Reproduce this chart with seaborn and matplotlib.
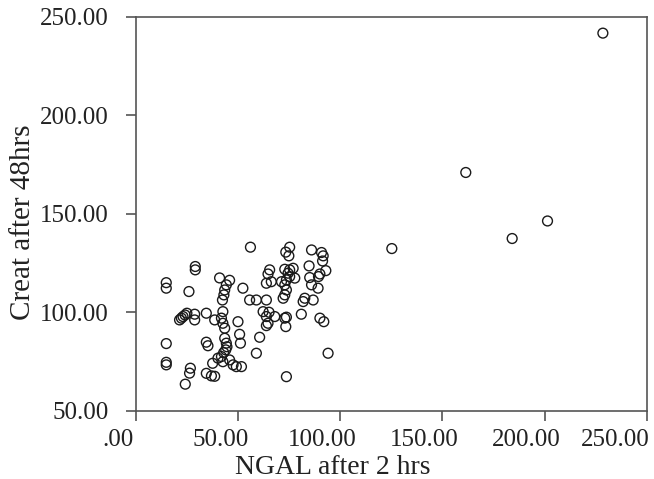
import matplotlib
matplotlib.use("Agg")
import matplotlib.pyplot as plt
import matplotlib.transforms as mtrans
import seaborn as sns
import pandas as pd

ngal = [228.5, 161.4, 201.4, 184.1, 125.2,
        14.8, 14.8, 14.8, 14.8, 14.8, 29.0, 29.0, 25.9, 21.3, 22.2, 23.0, 24.0, 24.9,
        28.7, 28.7, 34.4, 38.5, 34.4, 35.2, 26.6, 26.2, 24.1, 34.4, 36.9, 38.5, 37.5, 40.9,
        45.8, 44.2, 43.4, 43.0, 42.3, 42.5, 41.8, 42.5, 43.4, 43.4, 44.2, 44.5, 43.9, 42.9,
        41.8, 40.1, 42.5, 45.8, 47.5, 49.1, 51.6, 49.9, 50.7, 51.1, 52.3, 56.0, 55.6, 58.9,
        63.8, 60.5, 58.9,
        65.4, 64.6, 66.2, 63.8, 62.2, 65.1, 63.8, 64.6, 63.8, 67.9,
        75.2, 73.3, 74.8, 72.8, 75.2, 76.9, 74.4, 75.2, 77.7, 73.6, 71.2, 72.8, 73.6, 72.8,
        72.0, 72.8, 73.6, 73.3, 73.6,
        85.9, 90.8, 91.6, 91.3, 84.7, 92.9, 90.0, 89.3, 85.0, 85.9, 89.1, 82.6, 81.8, 86.7,
        80.9, 90.0, 91.9, 94.0]
creat = [241.7, 171.0, 146.4, 137.5, 132.4,
         115.1, 112.3, 84.2, 74.7, 73.4, 123.3, 121.6, 110.6, 96.2, 97.1, 97.9, 98.7, 99.6,
         99.1, 96.2, 99.6, 96.2, 84.9, 83.1, 71.7, 69.2, 63.6, 69.1, 67.8, 67.6, 74.2, 117.5,
         116.3, 114.0, 111.4, 108.9, 106.3, 100.4, 97.1, 94.5, 92.0, 86.9, 84.4, 82.6, 81.0, 79.6,
         77.6, 76.8, 75.0, 75.9, 73.4, 72.5, 72.5, 95.3, 88.9, 84.4, 112.3, 133.1, 106.3, 106.3,
         106.3, 87.4, 79.3,
         121.6, 119.5, 115.6, 114.8, 100.4, 100.1, 97.9, 94.5, 93.3, 97.9,
         133.1, 130.6, 128.7, 121.9, 121.6, 122.4, 119.9, 118.2, 117.4, 116.5, 115.6, 114.0, 111.4, 108.9,
         107.2, 97.1, 97.6, 92.8, 67.4,
         131.7, 130.4, 128.7, 126.1, 123.6, 121.2, 119.5, 118.2, 117.7, 114.0, 112.3, 107.2, 105.5, 106.3,
         99.1, 97.1, 95.3, 79.3]

x_ticks = [0, 50, 100, 150, 200, 250]
x_labels = [".00", "50.00", "100.00", "150.00", "200.00", "250.00"]
y_ticks = [50, 100, 150, 200, 250]
y_labels = ["50.00", "100.00", "150.00", "200.00", "250.00"]

df = pd.DataFrame({"NGAL after 2 hrs": ngal, "Creat after 48hrs": creat})

sns.set_style("white")
plt.rcParams["font.family"] = ["Liberation Serif", "DejaVu Serif"]

fig = plt.figure(figsize=(6.54, 4.79), dpi=100)
ax = fig.add_axes([0.208, 0.142, 0.781, 0.823])
sns.scatterplot(data=df, x="NGAL after 2 hrs", y="Creat after 48hrs", ax=ax,
                marker="o", s=50, facecolor="none", edgecolor="#1a1a1a", linewidth=1.0)
ax.set_xlim(0, 250)
ax.set_ylim(50, 250)
ax.set_xticks(x_ticks)
ax.set_xticklabels(x_labels)
ax.set_yticks(y_ticks)
ax.set_yticklabels(y_labels)
for sp in ax.spines.values():
    sp.set_color("#555555")
    sp.set_linewidth(1.2)
ax.tick_params(axis="both", which="both", direction="out", length=7, width=1.2,
               color="#555555", labelsize=18, labelcolor="#222222",
               bottom=True, left=True)
ax.tick_params(axis="y", pad=13)
ax.tick_params(axis="x", pad=6)

# SPSS-style: x tick labels sit slightly left of their ticks
shifts = [-18, -18, -18, -18, -18, -32]
for lab, dx in zip(ax.get_xticklabels(), shifts):
    lab.set_transform(lab.get_transform() +
                      mtrans.ScaledTranslation(dx / 100, 0, fig.dpi_scale_trans))

ax.set_xlabel("NGAL after 2 hrs", fontsize=20, color="#222222")
ax.set_ylabel("Creat after 48hrs", fontsize=21, color="#222222")
ax.xaxis.set_label_coords(0.385, -0.112)
ax.yaxis.set_label_coords(-0.195, 0.48)
fig.savefig("out.png", dpi=100)
